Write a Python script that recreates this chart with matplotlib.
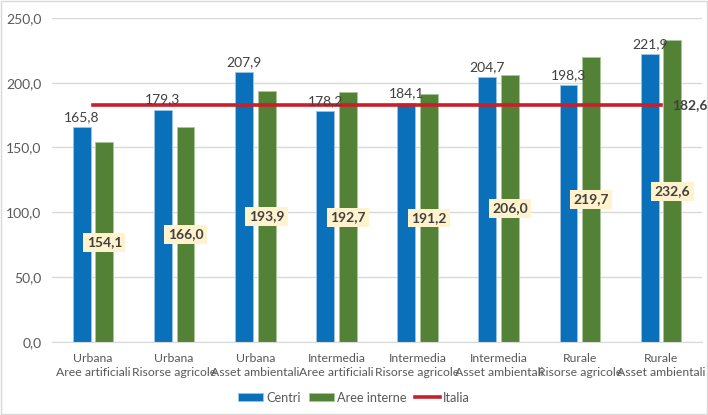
import numpy as np
import matplotlib
matplotlib.use('Agg')
import matplotlib.pyplot as plt
from matplotlib import ticker

plt.rcParams['font.family'] = ['Lato', 'DejaVu Sans']

categories = ['Urbana\nAree artificiali', 'Urbana\nRisorse agricole', 'Urbana\nAsset ambientali',
              'Intermedia\nAree artificiali', 'Intermedia\nRisorse agricole',
              'Intermedia\nAsset ambientali', 'Rurale\nRisorse agricole', 'Rurale\nAsset ambientali']
centri = [165.8, 179.3, 207.9, 178.2, 184.1, 204.7, 198.3, 221.9]
aree_interne = [154.1, 166.0, 193.9, 192.7, 191.2, 206.0, 219.7, 232.6]
italia = 182.6

blue = '#0A70BA'
green = '#538135'
red = '#C8202A'

fig = plt.figure(figsize=(7.08, 4.15), dpi=100)
ax = fig.add_axes([0.074, 0.176, 0.917, 0.781])

x = np.arange(len(categories))
w = 0.22
off = 0.14
b1 = ax.bar(x - off, centri, w, color=blue, edgecolor='#9DC3E6', linewidth=0.6, label='Centri', zorder=2)
b2 = ax.bar(x + off, aree_interne, w, color=green, edgecolor='#A9C89A', linewidth=0.6, label='Aree interne', zorder=2)
ln, = ax.plot([x[0], x[-1]], [italia, italia], color=red, lw=2.6, label='Italia', zorder=3)

fmt = lambda v: ('%.1f' % v).replace('.', ',')
for xi, v in zip(x, centri):
    ax.text(xi - off, v + 3, fmt(v), ha='center', va='bottom', fontsize=10, color='#404040', zorder=4)
for xi, v in zip(x, aree_interne):
    ax.text(xi + off, v / 2, fmt(v), ha='center', va='center', fontsize=10, color='#404040',
            fontweight='bold', zorder=4,
            bbox=dict(boxstyle='square,pad=0.25', fc='#FFF2CC', ec='none'))
ax.text(x[-1] + 0.13, italia, fmt(italia), ha='left', va='center', fontsize=10,
        color='#404040', fontweight='bold', zorder=4)

ax.set_ylim(0, 250)
ax.set_xlim(-0.5, len(categories) - 0.5)
ax.yaxis.set_major_locator(ticker.MultipleLocator(50))
ax.yaxis.set_major_formatter(ticker.FuncFormatter(lambda v, p: fmt(v)))
ax.set_xticks(x)
ax.set_xticklabels(categories, fontsize=8.8, color='#595959', linespacing=1.3)
ax.tick_params(axis='y', labelsize=10, labelcolor='#595959', length=0, pad=8)
ax.tick_params(axis='x', length=0, pad=8)
ax.grid(axis='y', color='#D9D9D9', lw=1, zorder=0)
for s in ['top', 'right', 'left']:
    ax.spines[s].set_visible(False)
ax.spines['bottom'].set_color('#D9D9D9')

fig.legend([b1, b2, ln], ['Centri', 'Aree interne', 'Italia'], loc='lower center',
           bbox_to_anchor=(0.5, 0.0), ncol=3, frameon=False,
           fontsize=9.2, labelcolor='#595959', handlelength=1.9, handleheight=0.6,
           columnspacing=0.7, handletextpad=0.25)

fig.patches.append(plt.Rectangle((0.002, 0.002), 0.996, 0.995, transform=fig.transFigure,
                                 fill=False, ec='#D9D9D9', lw=1))

fig.savefig('out.png', dpi=100)
